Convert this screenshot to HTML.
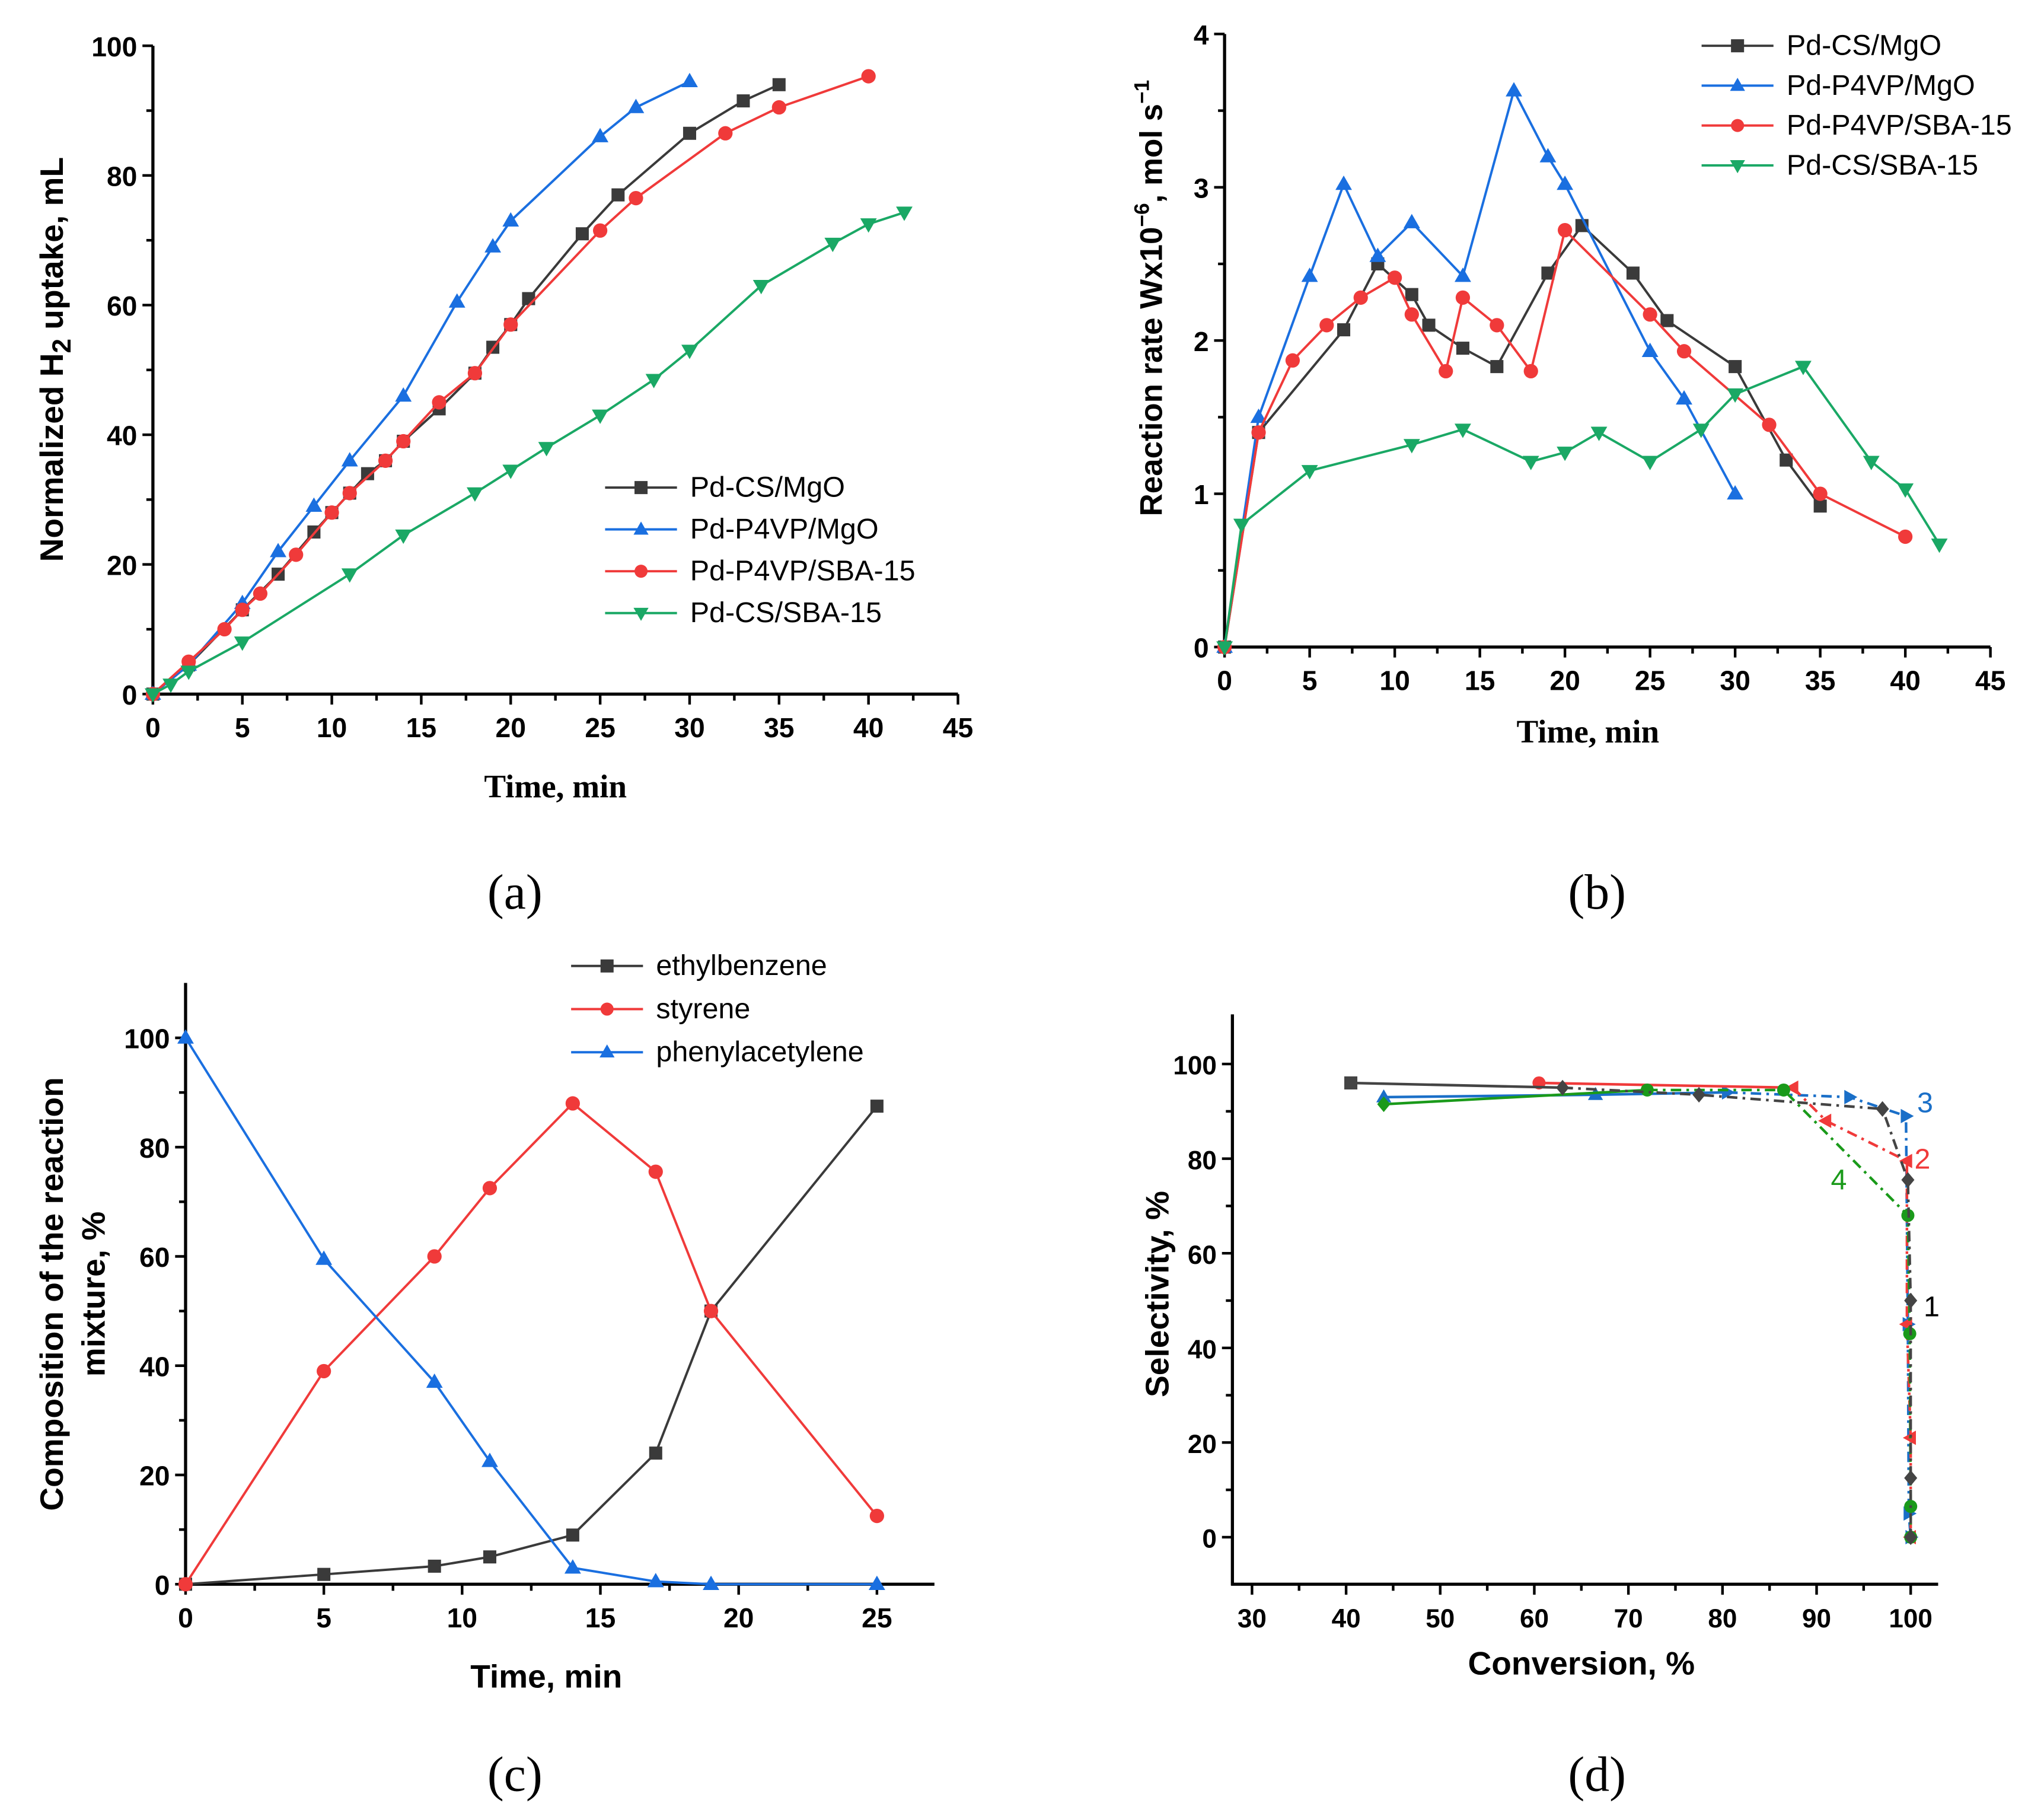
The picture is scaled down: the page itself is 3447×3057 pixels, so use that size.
<!DOCTYPE html>
<html><head><meta charset="utf-8"><style>
html,body{margin:0;padding:0;background:#fff}
svg{display:block}
text{font-family:"Liberation Sans",sans-serif}
.serif{font-family:"Liberation Serif",serif}
</style></head><body>
<svg id="fig" width="3447" height="3057" viewBox="0 0 1564 1387" xmlns="http://www.w3.org/2000/svg"></svg>
<script>
// ---------- Panel a data ----------
const aCsMgoX=[0,2,5,7,9,10,11,12,13,14,16,18,19,20,21,24,26,30,33,35];
const aCsMgoY=[0,4.5,13,18.5,25,28,31,34,36,39,44,49.5,53.5,57,61,71,77,86.5,91.5,94];
const aP4MgoX=[0,2,5,7,9,11,14,17,19,20,25,27,30];
const aP4MgoY=[0,4.5,14,22,29,36,46,60.5,69,73,86,90.5,94.5];
const aP4SbaX=[0,2,4,5,6,8,10,11,13,14,16,18,20,25,27,32,35,40];
const aP4SbaY=[0,5,10,13,15.5,21.5,28,31,36,39,45,49.5,57,71.5,76.5,86.5,90.5,95.3];
const aCsSbaX=[0,1,2,5,11,14,18,20,22,25,28,30,34,38,40,42];
const aCsSbaY=[0,1.5,3.5,8,18.5,24.5,31,34.5,38,43,48.5,53,63,69.5,72.5,74.3];
const aXTicks=[0,5,10,15,20,25,30,35,40,45];
const aYTicks=[0,20,40,60,80,100];
// ---------- Panel b data ----------
const bCsMgoX=[0,2,7,9,11,12,14,16,19,21,24,26,30,33,35];
const bCsMgoY=[0,1.4,2.07,2.5,2.3,2.1,1.95,1.83,2.44,2.75,2.44,2.13,1.83,1.22,0.92];
const bP4MgoX=[0,2,5,7,9,11,14,17,19,20,25,27,30];
const bP4MgoY=[0,1.5,2.42,3.02,2.55,2.77,2.42,3.63,3.2,3.02,1.93,1.62,1.0];
const bP4SbaX=[0,2,4,6,8,10,11,13,14,16,18,20,25,27,32,35,40];
const bP4SbaY=[0,1.4,1.87,2.1,2.28,2.41,2.17,1.8,2.28,2.1,1.8,2.72,2.17,1.93,1.45,1.0,0.72];
const bCsSbaX=[0,1,5,11,14,18,20,22,25,28,30,34,38,40,42];
const bCsSbaY=[0,0.8,1.15,1.32,1.42,1.21,1.27,1.4,1.21,1.42,1.65,1.83,1.21,1.03,0.67];
const bXTicks=[0,5,10,15,20,25,30,35,40,45];
const bYTicks=[0,1,2,3,4];
// ---------- Panel c data ----------
const cTime=[0,5,9,11,14,17,19,25];
const cEthyl=[0,1.8,3.3,5,9,24,50,87.5];
const cStyr=[0,39,60,72.5,88,75.5,50,12.5];
const cPhen=[100,59.5,37,22.5,3,0.5,0,0];
const cXTicks=[0,5,10,15,20,25];
const cYTicks=[0,20,40,60,80,100];
// ---------- Panel d data ----------
const d1X=[40.5,63,77.5,97,99.7,100,100,100];
const d1Y=[96,95,93.5,90.5,75.5,50,12.5,0];
const d2X=[60.5,87.5,91,99.6,99.6,100,100];
const d2Y=[96,95,88,79.5,45,21,0];
const d3X=[44,66.5,80.5,93.5,99.5,99.7,99.8,100];
const d3Y=[93,93.5,94,93,89,45,5,0];
const d4X=[44,72,86.5,99.7,99.9,100,100];
const d4Y=[91.5,94.5,94.5,68,43,6.5,0];
const dXTicks=[30,40,50,60,70,80,90,100];
const dYTicks=[0,20,40,60,80,100];

const NS="http://www.w3.org/2000/svg";
const svg=document.getElementById('fig');
function el(tag,attrs,parent,txt){const e=document.createElementNS(NS,tag);for(const k in attrs)e.setAttribute(k,attrs[k]);if(txt!==undefined)e.textContent=txt;(parent||svg).appendChild(e);return e;}
function lin(d0,d1,p0,p1){return v=>p0+(v-d0)*(p1-p0)/(d1-d0);}

function marker(g,shape,x,y,r,color){
  let m;
  if(shape==='square') m=el('rect',{x:x-r,y:y-r,width:2*r,height:2*r,fill:color},g);
  else if(shape==='circle') m=el('circle',{cx:x,cy:y,r:r,fill:color},g);
  else if(shape==='up') m=el('polygon',{points:`${x},${y-r*1.2} ${x-r*1.15},${y+r*0.8} ${x+r*1.15},${y+r*0.8}`,fill:color},g);
  else if(shape==='down') m=el('polygon',{points:`${x},${y+r*1.2} ${x-r*1.15},${y-r*0.8} ${x+r*1.15},${y-r*0.8}`,fill:color},g);
  else if(shape==='left') m=el('polygon',{points:`${x-r*1.2},${y} ${x+r*0.8},${y-r*1.1} ${x+r*0.8},${y+r*1.1}`,fill:color},g);
  else if(shape==='right') m=el('polygon',{points:`${x+r*1.2},${y} ${x-r*0.8},${y-r*1.1} ${x-r*0.8},${y+r*1.1}`,fill:color},g);
  else if(shape==='diamond') m=el('polygon',{points:`${x},${y-r*1.2} ${x+r},${y} ${x},${y+r*1.2} ${x-r},${y}`,fill:color},g);
  
  
}

function axes(name,sx,sy,xt,yt,x0,x1,y0,y1,fs){
  const g=el('g',{},svg);
  
  
  const xa=el('line',{x1:x0-1,y1:y0,x2:x1,y2:y0,stroke:'#000','stroke-width':2.4},g);
  
  const ya=el('line',{x1:x0,y1:y0+1,x2:x0,y2:y1,stroke:'#000','stroke-width':2.4},g);
  
  xt.forEach((v,i)=>{const x=sx(v);el('line',{x1:x,y1:y0,x2:x,y2:y0+8,stroke:'#000','stroke-width':2},g);
    if(i<xt.length-1){const xm=(x+sx(xt[i+1]))/2;if(xm<=x1)el('line',{x1:xm,y1:y0,x2:xm,y2:y0+5,stroke:'#000','stroke-width':2},g);}
    const t=el('text',{x:x,y:y0+33,'font-size':fs,'font-weight':'bold','text-anchor':'middle'},g,v);});
  yt.forEach((v,i)=>{const y=sy(v);el('line',{x1:x0-8,y1:y,x2:x0,y2:y,stroke:'#000','stroke-width':2},g);
    if(i<yt.length-1){const ym=(y+sy(yt[i+1]))/2;el('line',{x1:x0-5,y1:ym,x2:x0,y2:ym,stroke:'#000','stroke-width':2},g);}
    const t=el('text',{x:x0-12,y:y+8,'font-size':fs,'font-weight':'bold','text-anchor':'end'},g,v);});
}

function series(name,sx,sy,xs,ys,color,shape,r,dash,nSolid,solidShape){
  const g=el('g',{},svg);
  
  
  const P=xs.map((x,i)=>sx(x).toFixed(2)+','+sy(ys[i]).toFixed(2));
  if(dash&&nSolid){
    const s=el('polyline',{points:P.slice(0,nSolid).join(' '),fill:'none',stroke:color,'stroke-width':2},g);
    
    const d=el('polyline',{points:P.slice(nSolid-1).join(' '),fill:'none',stroke:color,'stroke-width':2,'stroke-dasharray':dash},g);
    
  } else {
    const a={points:P.join(' '),fill:'none',stroke:color,'stroke-width':1.8};
    if(dash)a['stroke-dasharray']=dash;
    const pl=el('polyline',a,g);
    
  }
  xs.forEach((x,i)=>marker(g,(nSolid&&i<nSolid-1&&solidShape)?solidShape:shape,sx(x),sy(ys[i]),r,color));
}

function legend(name,x,y,dy,items,fs){
  const g=el('g',{},svg);
  
  
  items.forEach((it,i)=>{const yy=y+i*dy;
    const row=el('g',{},g);
    
    el('line',{x1:x,y1:yy,x2:x+55,y2:yy,stroke:it[1],'stroke-width':1.8},row);
    marker(row,it[2],x+27.5,yy,5,it[1]);
    el('text',{x:x+65,y:yy+7,'font-size':fs},row,it[0]);});
}
function txt(name,x,y,s,attrs){const t=el('text',Object.assign({x:x,y:y},attrs),svg,s);return t;}

const BLK='#3a3a3a',BLU='#1a6fe0',RED='#f03a3a',GRN='#1aa865';

// ===== Panel a =====
{const sx=lin(0,45,117,733),sy=lin(0,100,531,35);
axes('panel-a',sx,sy,aXTicks,aYTicks,117,733,531,35,21);
series('pd-cs-mgo-a',sx,sy,aCsMgoX,aCsMgoY,BLK,'square',5);
series('pd-p4vp-mgo-a',sx,sy,aP4MgoX,aP4MgoY,BLU,'up',5.5);
series('pd-p4vp-sba15-a',sx,sy,aP4SbaX,aP4SbaY,RED,'circle',5.5);
series('pd-cs-sba15-a',sx,sy,aCsSbaX,aCsSbaY,GRN,'down',5.5);
legend('legend-a',463,373,32,[['Pd-CS/MgO',BLK,'square'],['Pd-P4VP/MgO',BLU,'up'],['Pd-P4VP/SBA-15',RED,'circle'],['Pd-CS/SBA-15',GRN,'down']],22);
txt('x-axis-title-a',425,610,'Time, min',{'font-size':25,'font-weight':'bold','text-anchor':'middle','class':'serif'});
const t=txt('y-axis-title-a',0,0,'',{'font-size':25,'font-weight':'bold','text-anchor':'middle',transform:'translate(48,275) rotate(-90)'});
el('tspan',{},t,'Normalized H');el('tspan',{'font-size':20,dy:6},t,'2');el('tspan',{dy:-6},t,' uptake, mL');
txt('caption-a',394,695,'(a)',{'font-size':38,'text-anchor':'middle','class':'serif'});}

// ===== Panel b =====
{const sx=lin(0,45,937,1523),sy=lin(0,4,495,26);
axes('panel-b',sx,sy,bXTicks,bYTicks,937,1523,495,26,21);
series('pd-cs-mgo-b',sx,sy,bCsMgoX,bCsMgoY,BLK,'square',5);
series('pd-p4vp-mgo-b',sx,sy,bP4MgoX,bP4MgoY,BLU,'up',5.5);
series('pd-p4vp-sba15-b',sx,sy,bP4SbaX,bP4SbaY,RED,'circle',5.5);
series('pd-cs-sba15-b',sx,sy,bCsSbaX,bCsSbaY,GRN,'down',5.5);
legend('legend-b',1302,35,30.5,[['Pd-CS/MgO',BLK,'square'],['Pd-P4VP/MgO',BLU,'up'],['Pd-P4VP/SBA-15',RED,'circle'],['Pd-CS/SBA-15',GRN,'down']],22);
txt('x-axis-title-b',1215,568,'Time, min',{'font-size':25,'font-weight':'bold','text-anchor':'middle','class':'serif'});
const t=txt('y-axis-title-b',0,0,'',{'font-size':24,'font-weight':'bold','text-anchor':'middle',transform:'translate(889,228) rotate(-90)'});
el('tspan',{},t,'Reaction rate Wx10');el('tspan',{'font-size':16,dy:-10},t,'−6');el('tspan',{dy:10},t,', mol s');el('tspan',{'font-size':16,dy:-10},t,'−1');
txt('caption-b',1222,695,'(b)',{'font-size':38,'text-anchor':'middle','class':'serif'});}

// ===== Panel c =====
{const sx=lin(0,25,142,671),sy=lin(0,100,1212,794);
axes('panel-c',sx,sy,cXTicks,cYTicks,142,715,1212,752,21);
series('ethylbenzene',sx,sy,cTime,cEthyl,BLK,'square',5);
series('styrene',sx,sy,cTime,cStyr,RED,'circle',5.5);
series('phenylacetylene',sx,sy,cTime,cPhen,BLU,'up',5.5);
legend('legend-c',437,739,33,[['ethylbenzene',BLK,'square'],['styrene',RED,'circle'],['phenylacetylene',BLU,'up']],22);
txt('x-axis-title-c',418,1291,'Time, min',{'font-size':25,'font-weight':'bold','text-anchor':'middle'});
txt('y-axis-title-c-line1',0,0,'Composition of the reaction',{'font-size':25,'font-weight':'bold','text-anchor':'middle',transform:'translate(48,990) rotate(-90)'});
txt('y-axis-title-c-line2',0,0,'mixture, %',{'font-size':25,'font-weight':'bold','text-anchor':'middle',transform:'translate(80,990) rotate(-90)'});
txt('caption-c',394,1370,'(c)',{'font-size':38,'text-anchor':'middle','class':'serif'});}

// ===== Panel d =====
{const sx=lin(30,100,958,1462),sy=lin(0,100,1176,814);
axes('panel-d',sx,sy,dXTicks,dYTicks,943,1483,1212,776,20);
const DD='8,4,2,4';
series('series-3',sx,sy,d3X,d3Y,'#1a6fc8','right',5,DD,3,'up');
series('series-2',sx,sy,d2X,d2Y,RED,'left',5,DD,2,'circle');
series('series-4',sx,sy,d4X,d4Y,'#1a9a1a','circle',5,DD,2,'diamond');
series('series-1',sx,sy,d1X,d1Y,'#444','diamond',5,DD,2,'square');
txt('label-3',1473,851,'3',{'font-size':22,fill:'#1a6fc8','text-anchor':'middle'});
txt('label-2',1471,894,'2',{'font-size':22,fill:RED,'text-anchor':'middle'});
txt('label-4',1407,910,'4',{'font-size':22,fill:'#1a9a1a','text-anchor':'middle'});
txt('label-1',1478,1007,'1',{'font-size':22,fill:'#000','text-anchor':'middle'});
txt('x-axis-title-d',1210,1281,'Conversion, %',{'font-size':25,'font-weight':'bold','text-anchor':'middle'});
txt('y-axis-title-d',0,0,'Selectivity, %',{'font-size':25,'font-weight':'bold','text-anchor':'middle',transform:'translate(894,990) rotate(-90)'});
txt('caption-d',1222,1370,'(d)',{'font-size':38,'text-anchor':'middle','class':'serif'});}
</script>
</body></html>
